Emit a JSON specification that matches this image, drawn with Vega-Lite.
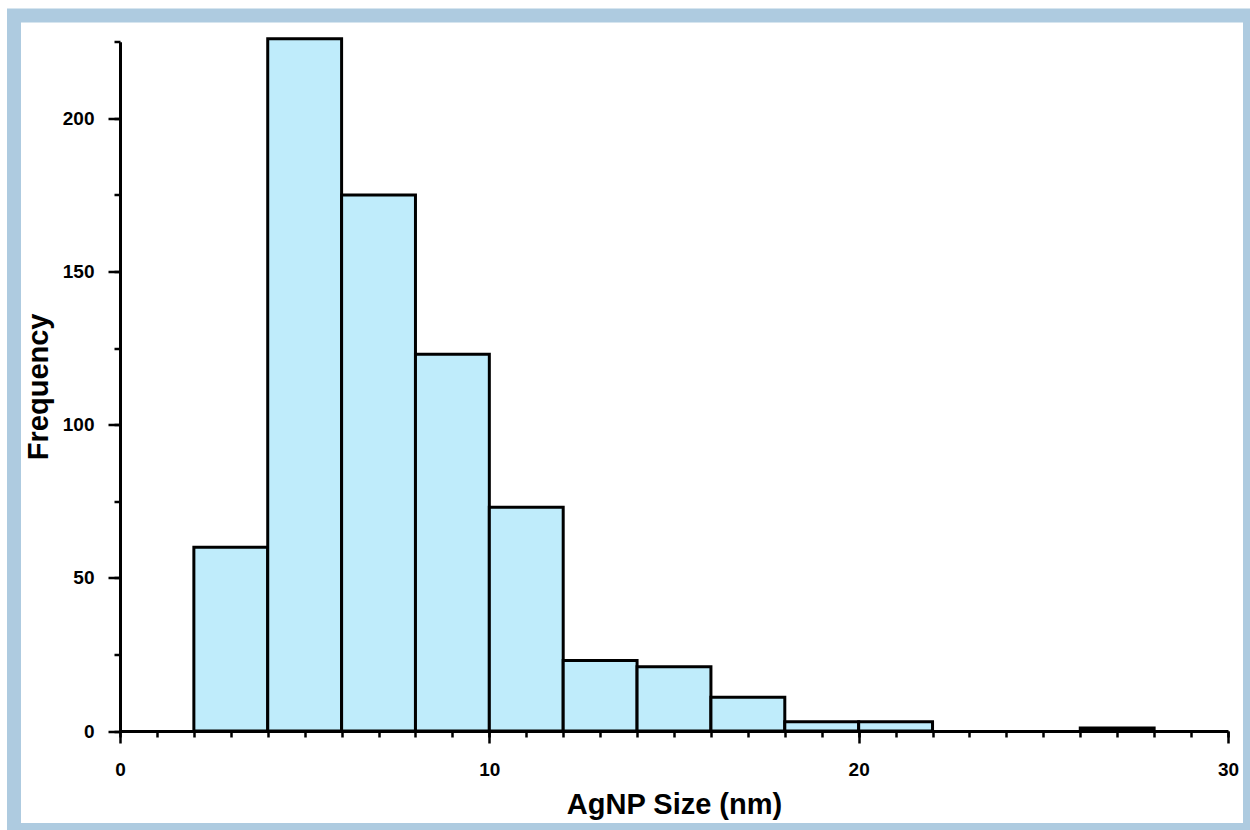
{
  "$schema": "https://vega.github.io/schema/vega-lite/v6.json",
  "width": 1236,
  "height": 814.5,
  "autosize": {"type": "none"},
  "padding": {"left": 14, "top": 15.5, "right": 0, "bottom": 0},
  "background": "white",
  "config": {
    "view": {"fill": "white", "stroke": "#aecbe0", "strokeWidth": 14},
    "font": "Liberation Sans",
    "axis": {
      "domainColor": "black",
      "domainWidth": 3,
      "tickColor": "black",
      "tickWidth": 2.5,
      "grid": false,
      "labelFlush": false,
      "labelFont": "Liberation Sans",
      "labelFontWeight": "bold",
      "labelFontSize": 19,
      "labelColor": "black",
      "titleFont": "Liberation Sans",
      "titleFontWeight": "bold",
      "titleFontSize": 29,
      "titleColor": "black"
    }
  },
  "data": {
    "values": [
      {"bin_start": 2, "bin_end": 4, "count": 60},
      {"bin_start": 4, "bin_end": 6, "count": 226},
      {"bin_start": 6, "bin_end": 8, "count": 175},
      {"bin_start": 8, "bin_end": 10, "count": 123},
      {"bin_start": 10, "bin_end": 12, "count": 73},
      {"bin_start": 12, "bin_end": 14, "count": 23},
      {"bin_start": 14, "bin_end": 16, "count": 21},
      {"bin_start": 16, "bin_end": 18, "count": 11},
      {"bin_start": 18, "bin_end": 20, "count": 3},
      {"bin_start": 20, "bin_end": 22, "count": 3},
      {"bin_start": 26, "bin_end": 28, "count": 1}
    ]
  },
  "resolve": {"axis": {"x": "independent", "y": "independent"}},
  "layer": [
    {
      "mark": {"type": "bar", "opacity": 0},
      "encoding": {
        "x": {
          "field": "bin_start",
          "type": "quantitative",
          "scale": {"domain": [0, 30], "range": [106, 1214], "nice": false, "zero": false},
          "axis": {
            "orient": "bottom",
            "values": [0,1,2,3,4,5,6,7,8,9,10,11,12,13,14,15,16,17,18,19,20,21,22,23,24,25,26,27,28,29,30],
            "labels": false,
            "title": null,
            "tickSize": 6,
            "domain": false,
            "offset": -99
          }
        },
        "x2": {"field": "bin_end"},
        "y": {
          "field": "count",
          "type": "quantitative",
          "scale": {"domain": [0, 225], "range": [715.5, 26.2], "nice": false, "zero": true},
          "axis": {
            "orient": "left",
            "values": [0, 25, 50, 75, 100, 125, 150, 175, 200, 225],
            "labels": false,
            "title": null,
            "tickSize": 6,
            "domain": false,
            "offset": -106
          }
        },
        "y2": {"datum": 0}
      }
    },
    {
      "mark": {"type": "bar", "fill": "#bfecfb", "stroke": "black", "strokeWidth": 3, "opacity": 1},
      "encoding": {
        "x": {
          "field": "bin_start",
          "type": "quantitative",
          "axis": {
            "orient": "bottom",
            "values": [0, 10, 20, 30],
            "title": "AgNP Size (nm)",
            "tickSize": 12,
            "labelPadding": 17,
            "titlePadding": 11,
            "offset": -99
          }
        },
        "x2": {"field": "bin_end"},
        "y": {
          "field": "count",
          "type": "quantitative",
          "axis": {
            "orient": "left",
            "values": [0, 50, 100, 150, 200],
            "title": "Frequency",
            "tickSize": 12,
            "labelPadding": 14,
            "titlePadding": 9,
            "offset": -106
          }
        },
        "y2": {"datum": 0}
      }
    }
  ]
}
